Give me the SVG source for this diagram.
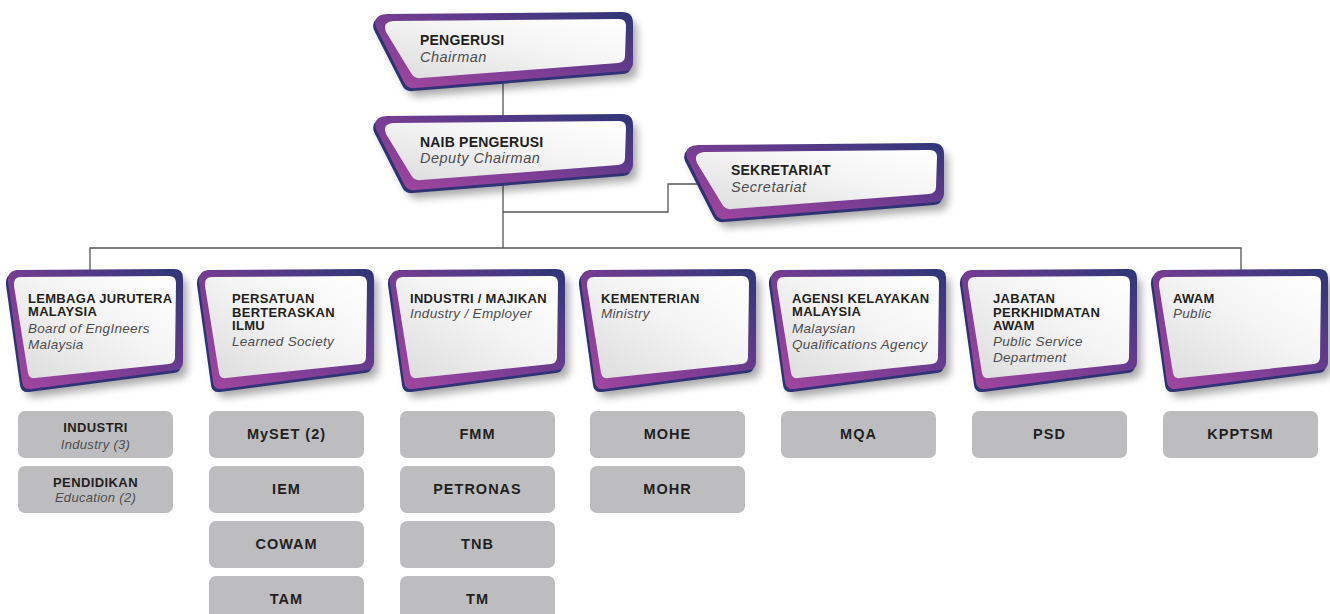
<svg xmlns="http://www.w3.org/2000/svg" xmlns:xlink="http://www.w3.org/1999/xlink" width="1330" height="614" viewBox="0 0 1330 614">
<style>
.b{font-family:"Liberation Sans",Arial,sans-serif;font-weight:bold;fill:#231f20}
.i{font-family:"Liberation Sans",Arial,sans-serif;font-style:italic;fill:#4d4d4f}
.tb{font-size:14px;letter-spacing:0.2px}
.ti{font-size:14.5px;letter-spacing:0.5px}
.nb{font-size:13px;letter-spacing:0.3px}
.ni{font-size:13.5px;letter-spacing:0.3px}
.gb{font-size:14.5px;letter-spacing:1px;text-anchor:middle}
.gb2{font-size:13px;letter-spacing:0.4px;text-anchor:middle}
.gi{font-size:13px;letter-spacing:0.3px;text-anchor:middle}
.grey{fill:#bdbdc0}
.ln{stroke:#555;stroke-width:1.3;fill:none}
</style>
<defs>
<linearGradient id="rim" x1="0" y1="1" x2="1" y2="0">
<stop offset="0" stop-color="#a4479f"/>
<stop offset="0.45" stop-color="#7a3d94"/>
<stop offset="1" stop-color="#2d3678"/>
</linearGradient>
<linearGradient id="face" x1="0" y1="1" x2="1" y2="0">
<stop offset="0" stop-color="#dcdcdd"/>
<stop offset="0.55" stop-color="#f4f4f4"/>
<stop offset="1" stop-color="#ffffff"/>
</linearGradient>
<filter id="sh" x="-20%" y="-20%" width="140%" height="160%">
<feGaussianBlur stdDeviation="4"/>
</filter>
<path id="topOuter" d="M 12,2 L 247,0 Q 258,0 258,11 L 258,51 Q 258,58 250,59 L 40,76 Q 32,77 29,70 L 1,15 Q -3,3 12,2 Z"/>
<path id="topInner" d="M 18,9 L 244,7 Q 251,7 251,14 L 250,44 Q 250,50 243,51 L 46,66 Q 39,67 36,61 L 11,20 Q 7,10 18,9 Z"/>
<path id="botOuter" d="M 9,1 L 166,0 Q 175,0 175,9 L 175,93 Q 175,100 168,101 L 23,120 Q 15,121 14,113 L 0,13 Q -1,2 9,1 Z"/>
<path id="botInner" d="M 13,8 L 161,7 Q 168,7 168,14 L 167,88 Q 167,94 161,95 L 27,109 Q 21,110 20,104 L 6,17 Q 5,8 13,8 Z"/>
<g id="topShape">
<use xlink:href="#topOuter" transform="translate(4,8)" fill="#000" opacity="0.35" filter="url(#sh)"/>
<use xlink:href="#topOuter" transform="translate(-2,3)" fill="#2f3275"/>
<use xlink:href="#topOuter" fill="url(#rim)"/>
<use xlink:href="#topInner" fill="url(#face)"/>
</g>
<g id="botShape">
<use xlink:href="#botOuter" transform="translate(4,8)" fill="#000" opacity="0.35" filter="url(#sh)"/>
<use xlink:href="#botOuter" transform="translate(-2,3)" fill="#2f3275"/>
<use xlink:href="#botOuter" fill="url(#rim)"/>
<use xlink:href="#botInner" fill="url(#face)"/>
</g>
</defs>
<rect width="1330" height="614" fill="#fff"/>

<g id="connectors">
<path class="ln" d="M503,80 V120"/>
<path class="ln" d="M503,185 V248"/>
<path class="ln" d="M90,272 V248 H1241 V272"/>
<path class="ln" d="M503,212 H668 V184 H697"/>
</g>

<g id="pengerusi">
<use xlink:href="#topShape" transform="translate(375,12)"/>
<text class="b tb" x="420" y="45">PENGERUSI</text>
<text class="i ti" x="420" y="62">Chairman</text>
</g>
<g id="naib-pengerusi">
<use xlink:href="#topShape" transform="translate(375,114)"/>
<text class="b tb" x="420" y="147">NAIB PENGERUSI</text>
<text class="i ti" x="420" y="163">Deputy Chairman</text>
</g>
<g id="sekretariat">
<use xlink:href="#topShape" transform="translate(686,143)"/>
<text class="b tb" x="731" y="175">SEKRETARIAT</text>
<text class="i ti" x="731" y="192">Secretariat</text>
</g>

<g id="lembaga">
<use xlink:href="#botShape" transform="translate(8,269)"/>
<text class="b nb" x="28" y="303">LEMBAGA JURUTERA</text>
<text class="b nb" x="28" y="316">MALAYSIA</text>
<text class="i ni" x="28" y="333">Board of EngIneers</text>
<text class="i ni" x="28" y="349">Malaysia</text>
</g>
<g id="persatuan">
<use xlink:href="#botShape" transform="translate(199,269)"/>
<text class="b nb" x="232" y="303">PERSATUAN</text>
<text class="b nb" x="232" y="317">BERTERASKAN</text>
<text class="b nb" x="232" y="330">ILMU</text>
<text class="i ni" x="232" y="346">Learned Society</text>
</g>
<g id="industri-majikan">
<use xlink:href="#botShape" transform="translate(390,269)"/>
<text class="b nb" x="410" y="303">INDUSTRI / MAJIKAN</text>
<text class="i ni" x="410" y="318">Industry / Employer</text>
</g>
<g id="kementerian">
<use xlink:href="#botShape" transform="translate(581,269)"/>
<text class="b nb" x="601" y="303">KEMENTERIAN</text>
<text class="i ni" x="601" y="318">Ministry</text>
</g>
<g id="agensi">
<use xlink:href="#botShape" transform="translate(771,269)"/>
<text class="b nb" x="792" y="303">AGENSI KELAYAKAN</text>
<text class="b nb" x="792" y="316">MALAYSIA</text>
<text class="i ni" x="792" y="333">Malaysian</text>
<text class="i ni" x="792" y="349">Qualifications Agency</text>
</g>
<g id="jabatan">
<use xlink:href="#botShape" transform="translate(962,269)"/>
<text class="b nb" x="993" y="303">JABATAN</text>
<text class="b nb" x="993" y="317">PERKHIDMATAN</text>
<text class="b nb" x="993" y="330">AWAM</text>
<text class="i ni" x="993" y="346">Public Service</text>
<text class="i ni" x="993" y="362">Department</text>
</g>
<g id="awam">
<use xlink:href="#botShape" transform="translate(1153,269)"/>
<text class="b nb" x="1173" y="303">AWAM</text>
<text class="i ni" x="1173" y="318">Public</text>
</g>

<g id="box-industri"><rect class="grey" x="18" y="411" width="155" height="47" rx="7"/>
<text class="b gb2" x="95.5" y="432">INDUSTRI</text><text class="i gi" x="95.5" y="449">Industry (3)</text></g>
<g id="box-pendidikan"><rect class="grey" x="18" y="466" width="155" height="47" rx="7"/>
<text class="b gb2" x="95.5" y="487">PENDIDIKAN</text><text class="i gi" x="95.5" y="502">Education (2)</text></g>

<g id="box-myset"><rect class="grey" x="209" y="411" width="155" height="47" rx="7"/><text class="b gb" x="286.5" y="439">MySET (2)</text></g>
<g id="box-iem"><rect class="grey" x="209" y="466" width="155" height="47" rx="7"/><text class="b gb" x="286.5" y="494">IEM</text></g>
<g id="box-cowam"><rect class="grey" x="209" y="521" width="155" height="47" rx="7"/><text class="b gb" x="286.5" y="549">COWAM</text></g>
<g id="box-tam"><rect class="grey" x="209" y="576" width="155" height="47" rx="7"/><text class="b gb" x="286.5" y="604">TAM</text></g>

<g id="box-fmm"><rect class="grey" x="400" y="411" width="155" height="47" rx="7"/><text class="b gb" x="477.5" y="439">FMM</text></g>
<g id="box-petronas"><rect class="grey" x="400" y="466" width="155" height="47" rx="7"/><text class="b gb" x="477.5" y="494">PETRONAS</text></g>
<g id="box-tnb"><rect class="grey" x="400" y="521" width="155" height="47" rx="7"/><text class="b gb" x="477.5" y="549">TNB</text></g>
<g id="box-tm"><rect class="grey" x="400" y="576" width="155" height="47" rx="7"/><text class="b gb" x="477.5" y="604">TM</text></g>

<g id="box-mohe"><rect class="grey" x="590" y="411" width="155" height="47" rx="7"/><text class="b gb" x="667.5" y="439">MOHE</text></g>
<g id="box-mohr"><rect class="grey" x="590" y="466" width="155" height="47" rx="7"/><text class="b gb" x="667.5" y="494">MOHR</text></g>

<g id="box-mqa"><rect class="grey" x="781" y="411" width="155" height="47" rx="7"/><text class="b gb" x="858.5" y="439">MQA</text></g>
<g id="box-psd"><rect class="grey" x="972" y="411" width="155" height="47" rx="7"/><text class="b gb" x="1049.5" y="439">PSD</text></g>
<g id="box-kpptsm"><rect class="grey" x="1163" y="411" width="155" height="47" rx="7"/><text class="b gb" x="1240.5" y="439">KPPTSM</text></g>
</svg>
